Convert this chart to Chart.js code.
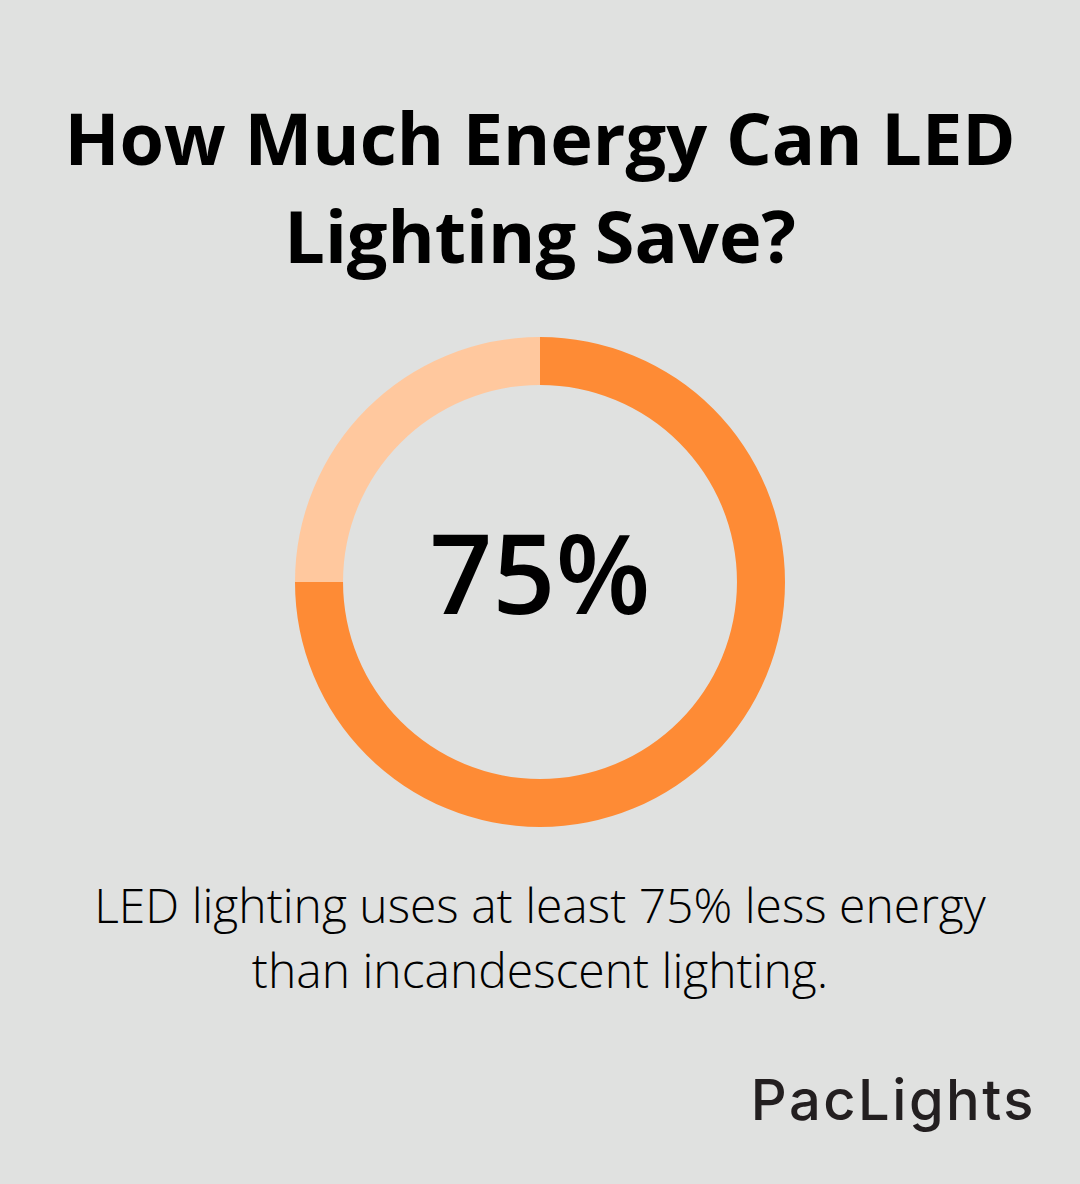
<!DOCTYPE html>
<html>
<head>
<meta charset="utf-8">
<script src="https://cdn.jsdelivr.net/npm/chart.js@4/dist/chart.umd.min.js"></script>
<style>
  html, body { margin: 0; padding: 0; }
  body { width: 1080px; height: 1184px; background: #e0e1e0; position: relative; overflow: hidden; font-family: "Open Sans", sans-serif; }
  #title { position: absolute; left: 0; top: 88px; width: 1080px; text-align: center; font-weight: 700; font-size: 72px; line-height: 98px; color: #000; }
  #wrap { position: absolute; left: 295px; top: 337px; width: 490px; height: 490px; }
  #center { position: absolute; left: 0; top: -11px; width: 490px; height: 490px; display: flex; align-items: center; justify-content: center; font-size: 110px; font-weight: 600; color: #000; }
  #note { position: absolute; left: 0; top: 872px; width: 1080px; text-align: center; font-weight: 300; font-size: 48px; line-height: 65px; color: #000; }
  #logo { position: absolute; right: 44px; top: 1066px; font-family: Inter, sans-serif; font-weight: 500; font-size: 56px; color: #231f20; letter-spacing: 2.5px; }
</style>
</head>
<body>
<div id="title">How Much Energy Can LED<br>Lighting Save?</div>
<div id="wrap"><canvas id="c" width="490" height="490"></canvas><div id="center"></div></div>
<div id="note">LED lighting uses at least 75% less energy<br>than incandescent lighting.</div>
<div id="logo">PacLights</div>
<script>
const categories = ["Energy saved", "Remaining"];
const values = [75, 25];
const colors = ["#fe8b35", "#ffc89e"];
const centerLabel = "75%";

document.getElementById("center").textContent = centerLabel;

new Chart(document.getElementById("c"), {
  type: "doughnut",
  data: {
    labels: categories,
    datasets: [{ data: values, backgroundColor: colors, borderWidth: 0, hoverOffset: 0 }]
  },
  options: {
    responsive: false,
    animation: false,
    cutout: "80.4%",
    layout: { padding: 0 },
    plugins: { legend: { display: false }, tooltip: { enabled: false } }
  }
});
</script>
</body>
</html>
